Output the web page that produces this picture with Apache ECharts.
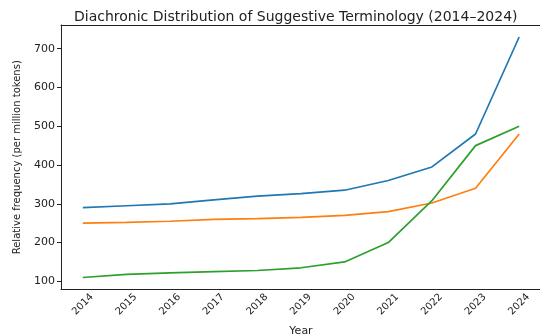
<!DOCTYPE html>
<html>
<head>
<meta charset="utf-8">
<style>
  html, body { margin: 0; padding: 0; background: #fff; }
  #chart { width: 540px; height: 336px; }
</style>
<script src="https://cdn.jsdelivr.net/npm/echarts@6/dist/echarts.min.js"></script>
</head>
<body>
<div id="chart"></div>
<script>
// Years on the horizontal axis
const years = ['2014', '2015', '2016', '2017', '2018', '2019', '2020', '2021', '2022', '2023', '2024'];

// Relative frequency per million tokens, three term groups
const seriesA = [290, 295, 300, 310, 320, 326, 335, 360, 395, 480, 730];
const seriesB = [250, 252, 255, 260, 262, 265, 270, 280, 302, 340, 480];
const seriesC = [110, 118, 122, 125, 128, 135, 150, 200, 308, 450, 500];

// Tick values shown on the frequency axis
const yTicks = [100, 200, 300, 400, 500, 600, 700];

const colors = ['#1f77b4', '#ff7f0e', '#2ca02c'];
const font = 'DejaVu Sans';
const ink = '#222';

const chart = echarts.init(document.getElementById('chart'), null, { renderer: 'canvas' });

const lineSeries = [seriesA, seriesB, seriesC].map((vals, i) => ({
  type: 'line',
  data: vals,
  showSymbol: false,
  symbol: 'none',
  lineStyle: { width: 1.7, color: colors[i] },
  itemStyle: { color: colors[i] },
  animation: false
}));

chart.setOption({
  animation: false,
  title: {
    text: 'Diachronic Distribution of Suggestive Terminology (2014–2024)',
    left: 69,
    top: 5,
    textStyle: { fontFamily: font, fontSize: 14, fontWeight: 'normal', color: ink }
  },
  grid: { left: 61, right: -1, top: 25, bottom: 46.5, containLabel: false, outerBoundsMode: 'none' },
  xAxis: [{
    type: 'category',
    data: years,
    boundaryGap: true,
    name: 'Year',
    nameLocation: 'middle',
    nameGap: 36,
    nameTextStyle: { fontFamily: font, fontSize: 11, color: ink },
    axisLine: { lineStyle: { color: ink, width: 1 } },
    axisTick: { alignWithLabel: true, length: 4, lineStyle: { color: ink } },
    axisLabel: {
      rotate: 45,
      align: 'center',
      verticalAlign: 'middle',
      margin: 15,
      fontFamily: font,
      fontSize: 10,
      color: ink,
      interval: 0
    },
    splitLine: { show: false }
  }, {
    type: 'category',
    data: years,
    position: 'top',
    axisLine: { show: true, lineStyle: { color: ink, width: 1 } },
    axisTick: { show: false },
    axisLabel: { show: false },
    splitLine: { show: false }
  }],
  yAxis: {
    type: 'value',
    min: 79,
    max: 761,
    name: 'Relative frequency (per million tokens)',
    nameLocation: 'middle',
    nameRotate: 90,
    nameGap: 39,
    nameTextStyle: { fontFamily: font, fontSize: 10, color: ink },
    axisLine: { show: true, lineStyle: { color: ink, width: 1 } },
    axisTick: { show: true, length: 4, customValues: yTicks, lineStyle: { color: ink } },
    axisLabel: { customValues: yTicks, fontFamily: font, fontSize: 11, color: ink, margin: 6 },
    splitLine: { show: false }
  },
  series: lineSeries
});
</script>
</body>
</html>
